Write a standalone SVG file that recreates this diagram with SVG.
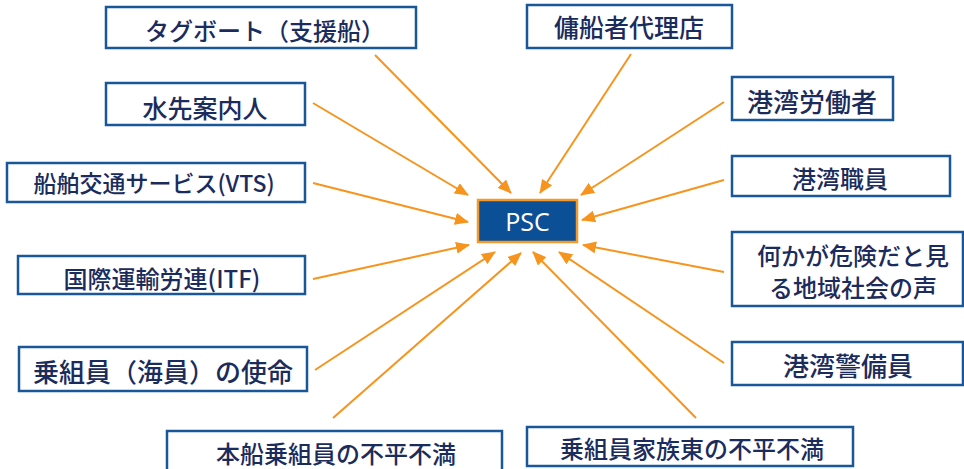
<svg xmlns="http://www.w3.org/2000/svg" width="964" height="469" viewBox="0 0 964 469">
<style>
.box{fill:#fff;stroke:#1A5799;stroke-width:2.5}
.t{font-family:"Noto Sans CJK JP","Noto Sans",sans-serif;font-weight:500;fill:#1B2C5C;text-anchor:middle;dominant-baseline:central}
.psc{fill:#0B4F96;stroke:#F39A2B;stroke-width:2.5}
.pt{font-family:"Open Sans","Noto Sans",sans-serif;fill:#fff;font-size:25px;text-anchor:middle;dominant-baseline:central}
.c{stroke:#F7941D;stroke-width:2;fill:none;marker-end:url(#ah)}
</style>
<defs>
<marker id="ah" markerUnits="userSpaceOnUse" markerWidth="14" markerHeight="12" viewBox="0 0 14 12" refX="13" refY="6" orient="auto">
<path d="M0,0 L14,6 L0,12 Z" fill="#F7941D"/>
</marker>
</defs>
<rect width="964" height="469" fill="#fff"/>
<g id="connectors">
<line class="c" x1="375" y1="55" x2="511" y2="193"/>
<line class="c" x1="631" y1="54" x2="540" y2="193"/>
<line class="c" x1="313" y1="103" x2="468" y2="195"/>
<line class="c" x1="724" y1="102" x2="581" y2="195"/>
<line class="c" x1="313" y1="183" x2="468" y2="222"/>
<line class="c" x1="724" y1="180" x2="582" y2="220"/>
<line class="c" x1="313" y1="279" x2="469" y2="245"/>
<line class="c" x1="724" y1="272" x2="583" y2="245"/>
<line class="c" x1="315" y1="370" x2="495" y2="252"/>
<line class="c" x1="724" y1="363" x2="559" y2="252"/>
<line class="c" x1="333" y1="418" x2="521" y2="253"/>
<line class="c" x1="696" y1="418" x2="533" y2="252"/>
</g>
<g id="psc">
<rect class="psc" x="478" y="200" width="99" height="42"/>
<text class="pt" x="527.5" y="221">PSC</text>
</g>
<g id="tugboat">
<rect class="box" x="106" y="7" width="310" height="41"/>
<text class="t" x="265" y="29" font-size="24">タグボート（支援船）</text>
</g>
<g id="charterer">
<rect class="box" x="527" y="5" width="205" height="43"/>
<text class="t" x="629" y="26" font-size="25">傭船者代理店</text>
</g>
<g id="pilot">
<rect class="box" x="106" y="83" width="199" height="42"/>
<text class="t" x="205" y="107" font-size="25">水先案内人</text>
</g>
<g id="vts">
<rect class="box" x="7" y="163" width="298" height="39"/>
<text class="t" x="154" y="182" font-size="23">船舶交通サービス(VTS)</text>
</g>
<g id="itf">
<rect class="box" x="18" y="256" width="287" height="38"/>
<text class="t" x="162" y="277" font-size="24">国際運輸労連(ITF)</text>
</g>
<g id="crew-mission">
<rect class="box" x="19" y="347" width="288" height="44"/>
<text class="t" x="163" y="370" font-size="26">乗組員（海員）の使命</text>
</g>
<g id="crew-complaints">
<rect class="box" x="167" y="431" width="335" height="45"/>
<text class="t" x="336" y="452" font-size="24">本船乗組員の不平不満</text>
</g>
<g id="family-complaints">
<rect class="box" x="527" y="427" width="326" height="39"/>
<text class="t" x="692" y="447" font-size="24">乗組員家族東の不平不満</text>
</g>
<g id="port-workers">
<rect class="box" x="732" y="77" width="161" height="43"/>
<text class="t" x="812" y="100" font-size="26">港湾労働者</text>
</g>
<g id="port-staff">
<rect class="box" x="732" y="156" width="218" height="40"/>
<text class="t" x="840" y="177" font-size="24">港湾職員</text>
</g>
<g id="community">
<rect class="box" x="732" y="232" width="231" height="74"/>
<text class="t" x="853" y="254" font-size="24">何かが危険だと見</text>
<text class="t" x="853" y="286" font-size="24">る地域社会の声</text>
</g>
<g id="port-security">
<rect class="box" x="732" y="342" width="231" height="43"/>
<text class="t" x="848" y="364" font-size="26">港湾警備員</text>
</g>
</svg>
